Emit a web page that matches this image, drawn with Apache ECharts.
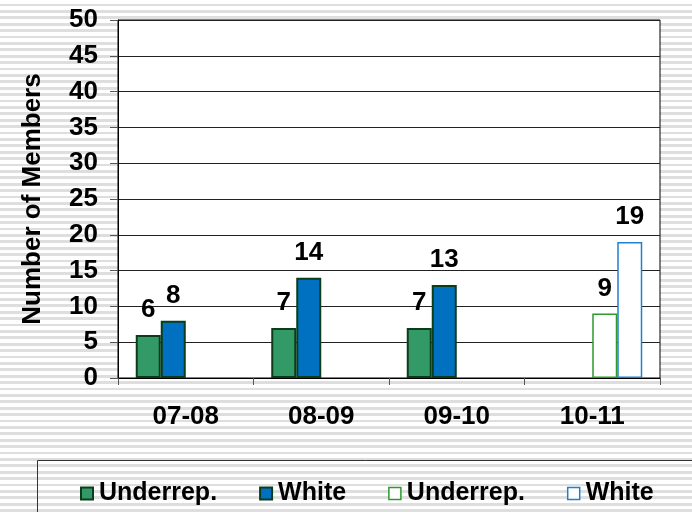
<!DOCTYPE html>
<html>
<head>
<meta charset="utf-8">
<script src="https://cdn.jsdelivr.net/npm/echarts@6/dist/echarts.min.js"></script>
<style>
  html, body { margin: 0; padding: 0; }
  body {
    width: 692px; height: 512px; overflow: hidden;
    background: repeating-linear-gradient(to bottom, #ffffff 0px, #ffffff 3.6px, #dedede 3.6px, #dedede 6.4px);
  }
  #chart { width: 692px; height: 512px; }
</style>
</head>
<body>
<div id="chart"></div>
<script>
const categories = ['07-08', '08-09', '09-10', '10-11'];
const seriesNames = ['Underrep.', 'White', 'Underrep. ', 'White '];
const underrepActual = [6, 7, 7, null];
const whiteActual = [8, 14, 13, null];
const underrepProjected = [null, null, null, 9];
const whiteProjected = [null, null, null, 19];
const yTicks = [0, 5, 10, 15, 20, 25, 30, 35, 40, 45, 50];

const FONT = 'Liberation Sans, Arial, sans-serif';

const labelStyle = {
  show: true,
  position: 'top',
  distance: 12,
  color: '#000',
  fontFamily: FONT,
  fontWeight: 'bold',
  fontSize: 26
};

function mk(name, data, fill, border, bw) {
  return {
    name: name,
    type: 'bar',
    data: data,
    barWidth: 25,
    barGap: '0%',
    itemStyle: { color: fill, borderColor: border, borderWidth: bw },
    label: labelStyle,
    emphasis: { disabled: true }
  };
}

const chart = echarts.init(document.getElementById('chart'), null, { renderer: 'canvas' });
chart.setOption({
  animation: false,
  grid: {
    left: 118, right: 32, top: 20, bottom: 134,
    show: true, backgroundColor: '#ffffff', borderColor: '#000', borderWidth: 1
  },
  legend: {
    left: 75, top: 476,
    itemWidth: 12, itemHeight: 12, itemGap: 42,
    formatter: (n) => n.trim(),
    textStyle: { color: '#000', fontFamily: FONT, fontWeight: 'bold', fontSize: 25, padding: [0, 0, 0, 1] },
    data: [
      { name: seriesNames[0], icon: 'rect', itemStyle: { color: '#339966', borderColor: '#0b3d1a', borderWidth: 2 } },
      { name: seriesNames[1], icon: 'rect', itemStyle: { color: '#0070c0', borderColor: '#0b3d1a', borderWidth: 2 } },
      { name: seriesNames[2], icon: 'rect', itemStyle: { color: '#ffffff', borderColor: '#2e9a2e', borderWidth: 1.5 } },
      { name: seriesNames[3], icon: 'rect', itemStyle: { color: '#ffffff', borderColor: '#1f80d0', borderWidth: 1.5 } }
    ],
    selectedMode: false
  },
  graphic: [{
    type: 'rect', left: 37, top: 460, z: -1,
    shape: { width: 700, height: 100 },
    style: { fill: 'transparent', stroke: '#333', lineWidth: 1 }
  }],
  xAxis: {
    type: 'category',
    data: categories,
    axisLine: { lineStyle: { color: '#000', width: 1 } },
    axisTick: { show: true, length: 7, lineStyle: { color: '#555' } },
    axisLabel: { color: '#000', fontFamily: FONT, fontWeight: 'bold', fontSize: 26, margin: 26 },
    splitLine: { show: false }
  },
  yAxis: {
    type: 'value',
    min: yTicks[0], max: yTicks[yTicks.length - 1], interval: 5,
    name: 'Number of Members',
    nameLocation: 'middle',
    nameGap: 72,
    nameTextStyle: { color: '#000', fontFamily: FONT, fontWeight: 'bold', fontSize: 26 },
    axisLine: { show: true, lineStyle: { color: '#000', width: 1 } },
    axisTick: { show: true, length: 8, lineStyle: { color: '#555' } },
    axisLabel: { color: '#000', fontFamily: FONT, fontWeight: 'bold', fontSize: 26, margin: 20 },
    splitLine: { show: true, lineStyle: { color: '#222', width: 1 } }
  },
  series: [
    mk(seriesNames[0], underrepActual, '#339966', '#0b3d1a', 2),
    mk(seriesNames[1], whiteActual, '#0070c0', '#0b3d1a', 2),
    mk(seriesNames[2], underrepProjected, '#ffffff', '#2e9a2e', 1.5),
    mk(seriesNames[3], whiteProjected, '#ffffff', '#1f80d0', 1.5)
  ]
});
</script>
</body>
</html>
